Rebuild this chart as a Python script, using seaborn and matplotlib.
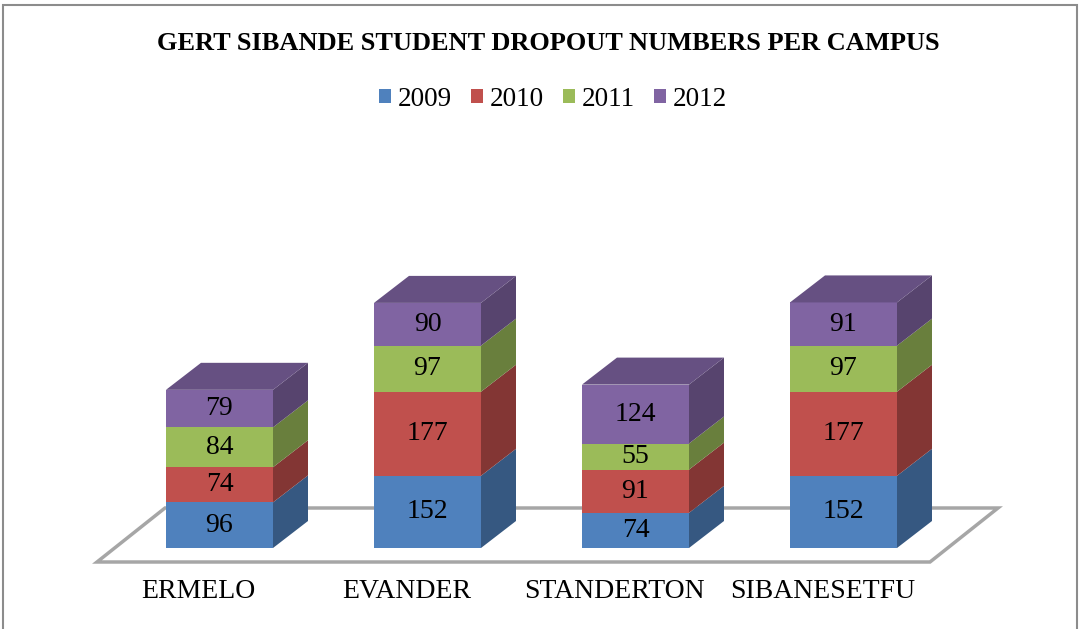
import numpy as np
import pandas as pd
import seaborn as sns
import matplotlib.pyplot as plt
import matplotlib.colors as mcolors
from matplotlib.patches import Patch, Polygon, Rectangle

# data
campuses = ["ERMELO", "EVANDER", "STANDERTON", "SIBANESETFU"]
years = ["2009", "2010", "2011", "2012"]
d2009 = [96, 152, 74, 152]
d2010 = [74, 177, 91, 177]
d2011 = [84, 97, 55, 97]
d2012 = [79, 90, 124, 91]
colors = ["#4F81BD", "#C0504D", "#9BBB59", "#8064A2"]

series = [d2009, d2010, d2011, d2012]
cum = np.cumsum(np.array(series), axis=0)

rows = []
for k, yr in enumerate(years):
    for i, c in enumerate(campuses):
        rows.append({"campus": c, "year": yr, "top": cum[k][i]})
df = pd.DataFrame(rows)

sns.set_theme(style="white")
plt.rcParams["font.family"] = ["Liberation Serif", "DejaVu Serif"]
plt.rcParams["text.color"] = "black"

fig = plt.figure(figsize=(10.8, 6.29), dpi=100)
ax = fig.add_axes([0, 0, 1, 1])

# pixel -> data helpers (layout only)
def px2x(px):
    return (px - 219.5) / 208.0

def py2v(py):
    return (548.0 - py) / 0.475

bw = 107 / 208
dx = 35 / 208
dy = 27 / 0.475

def shade(c, f):
    r, g, b = mcolors.to_rgb(c)
    return (r * f, g * f, b * f)

# floor
floor = Polygon([(px2x(97), py2v(562)), (px2x(930), py2v(562)),
                 (px2x(998), py2v(508)), (px2x(165), py2v(508))],
                closed=True, fc="white", ec="#A6A6A6", lw=2.5, zorder=0)
ax.add_patch(floor)

# front faces: cumulative bars drawn tallest first
sns.barplot(data=df, x="campus", y="top", hue="year", hue_order=years[::-1],
            order=campuses, palette=dict(zip(years, colors)), dodge=False,
            width=bw, saturation=1, linewidth=0, errorbar=None, legend=False,
            ax=ax, zorder=2)

# side and top faces, value labels
for i in range(len(campuses)):
    x0 = i - bw / 2
    x1 = i + bw / 2
    bottom = 0
    for k in range(len(years)):
        top = cum[k][i]
        ax.add_patch(Polygon([(x1, bottom), (x1 + dx, bottom + dy),
                              (x1 + dx, top + dy), (x1, top)],
                             fc=shade(colors[k], 0.68), ec="none", zorder=2))
        ax.text(i, (bottom + top) / 2, str(series[k][i]), ha="center",
                va="center", fontsize=20, color="black", zorder=5)
        bottom = top
    ax.add_patch(Polygon([(x0, top), (x0 + dx, top + dy),
                          (x1 + dx, top + dy), (x1, top)],
                         fc=shade(colors[3], 0.8), ec="none", zorder=2))
    ax.text(i - 0.10, py2v(592), campuses[i], ha="center", va="center",
            fontsize=20, color="black")

ax.set_xlim(px2x(0), px2x(1080))
ax.set_ylim(py2v(629), py2v(0))
ax.axis("off")

fig.text(548 / 1080, 1 - 43 / 629, "GERT SIBANDE STUDENT DROPOUT NUMBERS PER CAMPUS",
         ha="center", va="center", fontsize=19, fontweight="bold", color="black")

handles = [Patch(fc=c, ec="none") for c in colors]
fig.legend(handles, years, loc="center", bbox_to_anchor=(553 / 1080, 1 - 99 / 629),
           ncol=4, frameon=False, fontsize=19.5, handlelength=0.45, handleheight=0.45,
           handletextpad=0.25, columnspacing=0.7)

fig.patches.append(Rectangle((3 / 1080, -0.1), 1074 / 1080, 1.1 - 5 / 629,
                             transform=fig.transFigure, fill=False,
                             ec="#8C8C8C", lw=1.5))

fig.savefig("out.png", dpi=100)
